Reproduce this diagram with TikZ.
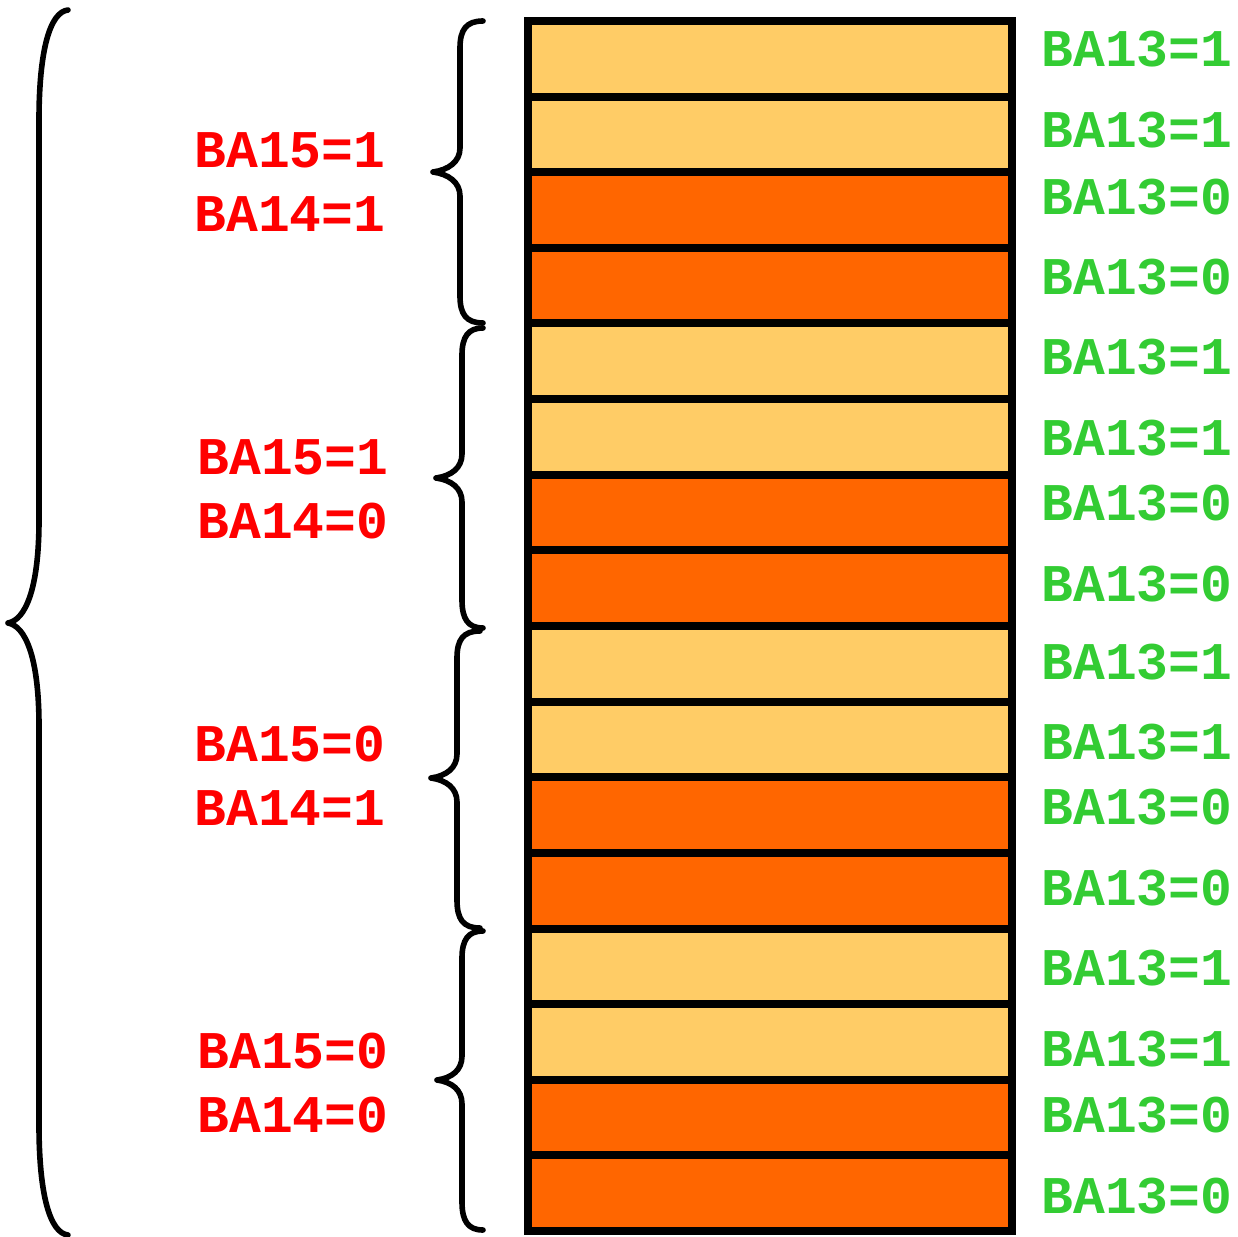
\documentclass[tikz,border=0pt]{standalone}
\usepackage{fontspec}
\setmonofont{Liberation Mono}

\definecolor{rowlight}{RGB}{255,204,102}
\definecolor{roworange}{RGB}{255,102,0}
\definecolor{bitgreen}{RGB}{51,204,51}
\definecolor{bankred}{RGB}{255,0,0}

\tikzset{every picture/.style={line width=0.75pt}}
\tikzset{
  light row/.style={draw=black,line width=6pt,fill=rowlight},
  dark row/.style={draw=black,line width=6pt,fill=roworange},
  brace line/.style={draw=black,line width=4.2pt,line cap=round,line join=round},
  bit label/.style={anchor=west,inner sep=0pt,text=bitgreen,font=\fontsize{39.75}{48}\selectfont\ttfamily\bfseries},
  bank label/.style={anchor=west,inner sep=0pt,text=bankred,font=\fontsize{39.75}{48}\selectfont\ttfamily\bfseries}
}

\begin{document}
\begin{tikzpicture}[x=0.75pt,y=0.75pt,yscale=-1,xscale=1]
%set diagram left start at 0, and has height of 1237
\useasboundingbox (0,0) rectangle (1238,1237);

%Shape: Rectangles (rows, top to bottom)
\draw[light row] (528,21) rectangle (1012,96.6) ;
\draw[light row] (528,96.6) rectangle (1012,172.3) ;
\draw[dark row] (528,172.3) rectangle (1012,247.9) ;
\draw[dark row] (528,247.9) rectangle (1012,323.5) ;
\draw[light row] (528,323.5) rectangle (1012,399.1) ;
\draw[light row] (528,399.1) rectangle (1012,474.8) ;
\draw[dark row] (528,474.8) rectangle (1012,550.4) ;
\draw[dark row] (528,550.4) rectangle (1012,626) ;
\draw[light row] (528,626) rectangle (1012,701.6) ;
\draw[light row] (528,701.6) rectangle (1012,777.3) ;
\draw[dark row] (528,777.3) rectangle (1012,852.9) ;
\draw[dark row] (528,852.9) rectangle (1012,928.5) ;
\draw[light row] (528,928.5) rectangle (1012,1004.1) ;
\draw[light row] (528,1004.1) rectangle (1012,1079.8) ;
\draw[dark row] (528,1079.8) rectangle (1012,1155.4) ;
\draw[dark row] (528,1155.4) rectangle (1012,1231) ;

%Shape: Brace [big, left]
\draw[brace line] (68,10) .. controls (50,12) and (39,50) .. (39,120) -- (39,520) .. controls (39,590) and (25,620) .. (8,623) .. controls (25,626) and (39,656) .. (39,726) -- (39,1125) .. controls (39,1195) and (50,1233) .. (68,1235) ;

%Shape: Brace [group 1]
\draw[brace line] (483,21) .. controls (466,21) and (460,30) .. (460,48) -- (460,148) .. controls (460,162) and (448,170) .. (433,172) .. controls (448,174) and (460,182) .. (460,196) -- (460,296) .. controls (460,314) and (466,323) .. (483,323) ;
%Shape: Brace [group 2]
\draw[brace line] (483,328) .. controls (468,328) and (462,337) .. (462,355) -- (462,454) .. controls (462,468) and (451,476) .. (436,478) .. controls (451,480) and (462,488) .. (462,502) -- (462,600) .. controls (462,619) and (468,628) .. (483,628) ;
%Shape: Brace [group 3]
\draw[brace line] (480,631) .. controls (463,631) and (457,640) .. (457,658) -- (457,754) .. controls (457,768) and (446,776) .. (431,778) .. controls (446,780) and (457,788) .. (457,802) -- (457,900) .. controls (457,919) and (463,928) .. (480,928) ;
%Shape: Brace [group 4]
\draw[brace line] (483,931) .. controls (468,931) and (462,940) .. (462,958) -- (462,1056) .. controls (462,1070) and (452,1078) .. (437,1080) .. controls (452,1082) and (462,1090) .. (462,1104) -- (462,1202) .. controls (462,1221) and (468,1230) .. (483,1230) ;

% Text Node
\node[bank label] (hiA) at (194,150) {BA15=1};
% Text Node
\node[bank label] (loA) at (194,214) {BA14=1};
% Text Node
\node[bank label] (hiB) at (197,457) {BA15=1};
% Text Node
\node[bank label] (loB) at (197,521) {BA14=0};
% Text Node
\node[bank label] (hiC) at (194,744) {BA15=0};
% Text Node
\node[bank label] (loC) at (194,808) {BA14=1};
% Text Node
\node[bank label] (hiD) at (197,1051) {BA15=0};
% Text Node
\node[bank label] (loD) at (197,1115) {BA14=0};

% Text Node
\node[bit label] (selA1) at (1041,49.5) {BA13=1};
% Text Node
\node[bit label] (selA2) at (1041,130) {BA13=1};
% Text Node
\node[bit label] (selA3) at (1041,197) {BA13=0};
% Text Node
\node[bit label] (selA4) at (1041,277.5) {BA13=0};
% Text Node
\node[bit label] (selB1) at (1041,357) {BA13=1};
% Text Node
\node[bit label] (selB2) at (1041,438) {BA13=1};
% Text Node
\node[bit label] (selB3) at (1041,503) {BA13=0};
% Text Node
\node[bit label] (selB4) at (1041,584) {BA13=0};
% Text Node
\node[bit label] (selC1) at (1041,662) {BA13=1};
% Text Node
\node[bit label] (selC2) at (1041,742.5) {BA13=1};
% Text Node
\node[bit label] (selC3) at (1041,807) {BA13=0};
% Text Node
\node[bit label] (selC4) at (1041,888) {BA13=0};
% Text Node
\node[bit label] (selD1) at (1041,968) {BA13=1};
% Text Node
\node[bit label] (selD2) at (1041,1049) {BA13=1};
% Text Node
\node[bit label] (selD3) at (1041,1115) {BA13=0};
% Text Node
\node[bit label] (selD4) at (1041,1196) {BA13=0};

\end{tikzpicture}
\end{document}
